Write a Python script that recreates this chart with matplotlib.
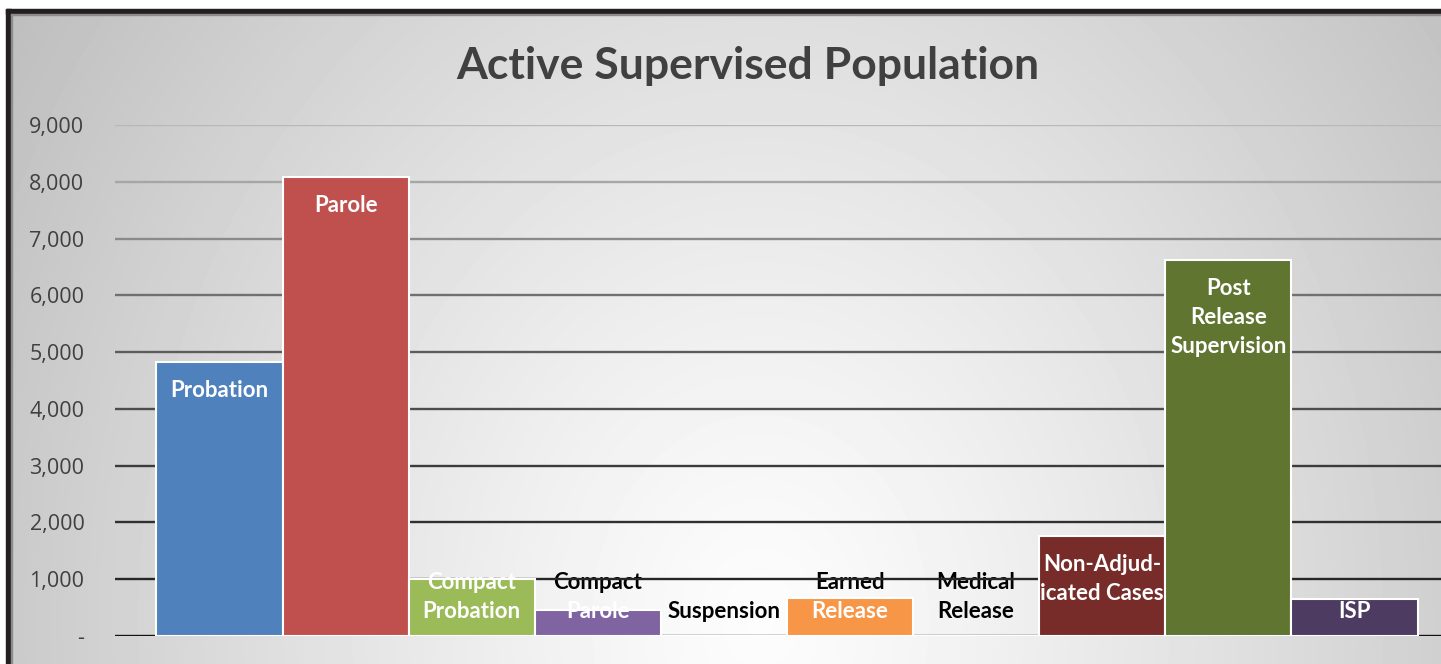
import numpy as np
import matplotlib
matplotlib.use("Agg")
import matplotlib.pyplot as plt
from matplotlib.patches import Rectangle

categories = ["Probation", "Parole", "Compact\nProbation", "Compact\nParole", "Suspension",
              "Earned\nRelease", "Medical\nRelease", "Non-Adjud-\nicated Cases",
              "Post\nRelease\nSupervision", "ISP"]
population = [4830, 8080, 1000, 460, 0, 670, 0, 1760, 6620, 650]
bar_colors = ["#4f81bd", "#c0504d", "#9bbb59", "#8064a2", "#4bacc6",
              "#f79646", "#2c4d75", "#772c2a", "#5f7530", "#4d3b62"]
y_ticks = [0, 1000, 2000, 3000, 4000, 5000, 6000, 7000, 8000, 9000]
y_tick_labels = ["-", "1,000", "2,000", "3,000", "4,000", "5,000", "6,000", "7,000", "8,000", "9,000"]
grid_grays = [0.07, 0.15, 0.19, 0.23, 0.30, 0.36, 0.44, 0.54, 0.65, 0.72]

W, H = 1441, 664
fig = plt.figure(figsize=(W / 100, H / 100), dpi=100, facecolor="white")

# soft radial backdrop, brightest just under the plot centre
bg = fig.add_axes([0, 0, 1, 1], zorder=-10)
yy, xx = np.mgrid[0:H, 0:W]
r = np.sqrt(((xx - 760) / 820.0) ** 2 + ((yy - 620) / 1000.0) ** 2)
shade = np.clip(0.99 - 0.22 * r ** 1.2, 0, 1)
bg.imshow(shade, cmap="gray", vmin=0, vmax=1, aspect="auto", extent=[0, W, H, 0])
bg.set_xlim(0, W)
bg.set_ylim(H, 0)
bg.axis("off")
# white margin and dark frame on top / left
bg.add_patch(Rectangle((0, 0), W, 9, color="white", zorder=5))
bg.add_patch(Rectangle((0, 0), 6, H, color="white", zorder=5))
bg.add_patch(Rectangle((6, 9), W, 5, color="#231f20", zorder=6))
bg.add_patch(Rectangle((6, 9), 5, H, color="#231f20", zorder=6))
bg.add_patch(Rectangle((11, 14), W, 1.2, color="#8c8c8c", zorder=6))
bg.add_patch(Rectangle((11, 14), 1.2, H, color="#8c8c8c", zorder=6))

ax = fig.add_axes([115 / W, (H - 636) / H, 1 - 115 / W, (636 - 125) / H])
ax.set_facecolor("none")
x = np.arange(len(categories))
ax.set_xlim(-0.829, 9.686)
ax.set_ylim(0, 9000)

ax.hlines(y_ticks, -0.829, 9.686, colors=[str(g) for g in grid_grays], lw=1.7, zorder=2)
ax.bar(x, population, width=1.0, color=bar_colors, edgecolor="white", linewidth=1.5, zorder=3)

# labels sit inside the bar end, pushed up to stay above the axis on short bars
line_h = 515
pad_top = 240
pad_bottom = 175
for xi, name, v in zip(x, categories, population):
    lines = name.split("\n")
    top = max(v - pad_top, len(lines) * line_h + pad_bottom)
    for k, line in enumerate(lines):
        yc = top - line_h * (k + 0.5)
        inside = yc < v
        ax.text(xi, yc, line, ha="center", va="center", fontsize=16, fontweight="bold",
                family="Lato", color="white" if inside else "black",
                zorder=4 if inside else 1)

ax.set_yticks(y_ticks)
ax.set_yticklabels(y_tick_labels)
ax.tick_params(axis="y", length=0, pad=22, labelsize=15.5, labelcolor="#404040")
for lab in ax.get_yticklabels():
    lab.set_family("Open Sans")
ax.set_xticks([])
for s in ax.spines.values():
    s.set_visible(False)

fig.text(748 / W, 1 - 66 / H, "Active Supervised Population", ha="center", va="center",
         fontsize=32, fontweight="bold", family="Lato", color="#404040")

fig.savefig("out.png", dpi=100, facecolor="white")
